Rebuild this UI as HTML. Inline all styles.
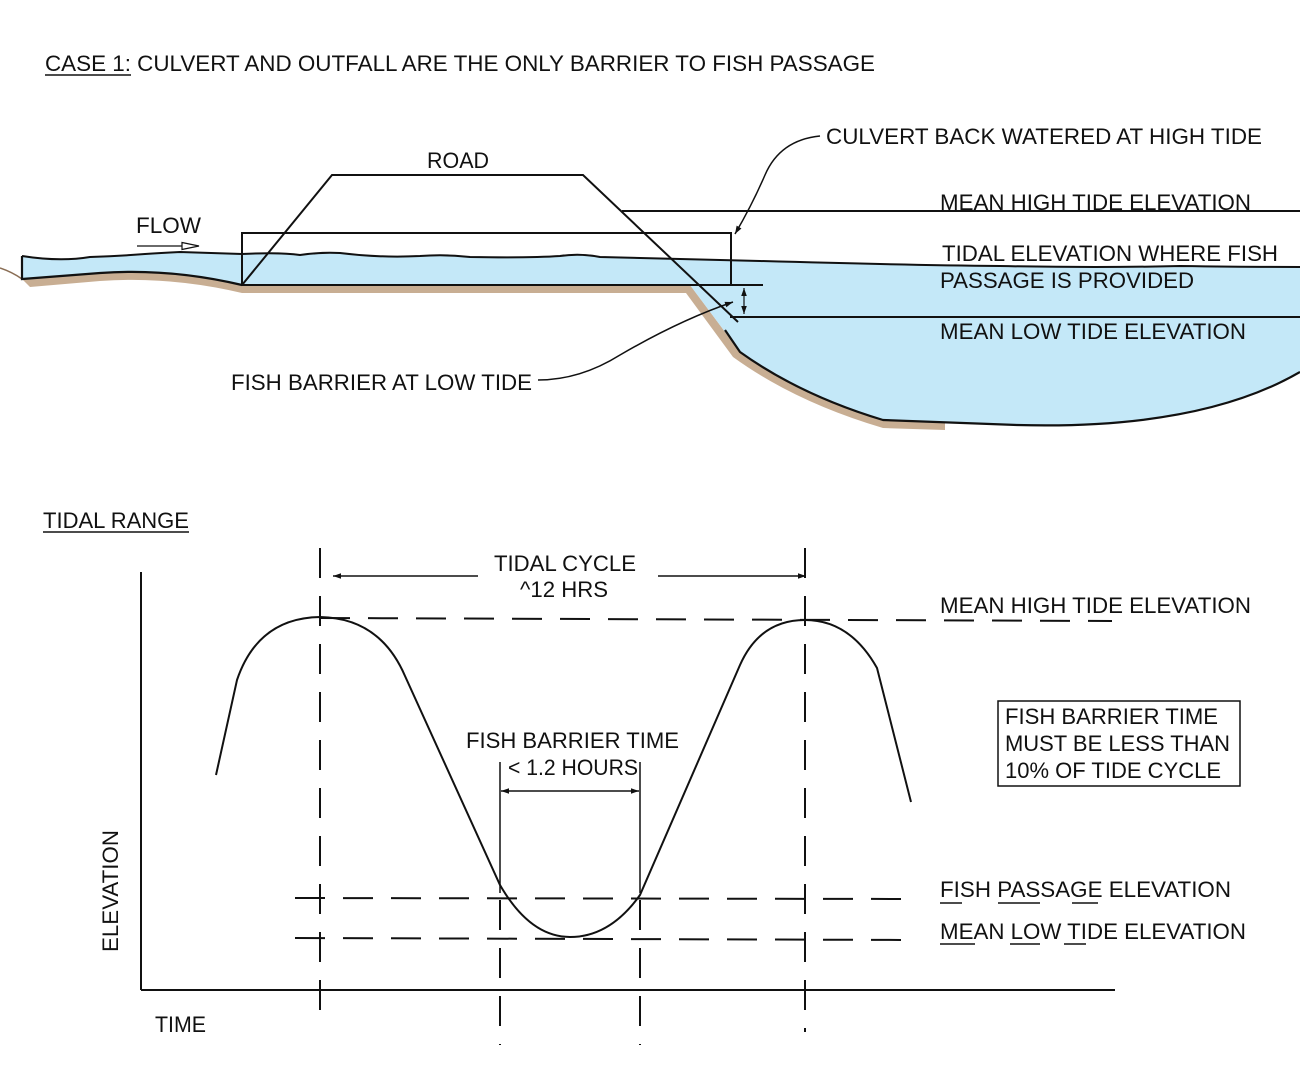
<!DOCTYPE html>
<html><head><meta charset="utf-8"><style>
html,body{margin:0;padding:0;background:#fff}
svg{display:block}
text{font-family:"Liberation Sans",Arial,sans-serif;font-size:22px;fill:#111}
</style></head><body>
<svg width="1300" height="1070" viewBox="0 0 1300 1070" xmlns="http://www.w3.org/2000/svg">
<defs>
<marker id="ar" viewBox="0 0 10 10" refX="10" refY="5" markerWidth="12" markerHeight="8" orient="auto-start-reverse" markerUnits="userSpaceOnUse"><path d="M0,1.5 L10,5 L0,8.5 z" fill="#111"/></marker>
</defs>
<g stroke="#111" fill="none" stroke-width="2">
<line x1="45" y1="75" x2="131" y2="75" stroke-width="1.5"/>
<!-- brown ground -->
<path d="M22,279 L100,273 Q170,268 242,285 L690,285 L740,352 Q800,395 883,420 L945,422 L945,430 L883,428 Q795,402 733,357 L686,293 L242,293 Q170,276 100,281 L30,287 Z" fill="#c8ae93" stroke="none"/>
<path d="M0,268 Q12,272 22,279" stroke="#8a6e55" stroke-width="1.5"/>
<!-- water -->
<path d="M22,256 Q60,262 90,257 Q120,256 145,254 Q160,253 180,252 L242,254 Q280,252 300,255 Q320,252 340,253 Q380,258 420,256 Q445,254 470,257 Q530,258 560,256 Q580,253 600,257 Q680,259 760,261 Q900,265 1000,266 Q1100,268 1180,266 Q1250,267 1300,267 L1300,372 Q1200,430 1017,425 L883,420 Q800,395 740,352 L690,285 L242,285 Q170,268 100,273 L22,279 Z" fill="#c4e8f8" stroke="none"/>
<path d="M22,256 L22,279 L100,273 Q170,268 242,285" stroke-width="2.2"/>
<path d="M22,256 Q60,262 90,257 Q120,256 145,254 Q160,253 180,252 L242,254 Q280,252 300,255 Q320,252 340,253 Q380,258 420,256 Q445,254 470,257 Q530,258 560,256 Q580,253 600,257 Q680,259 760,261 Q900,265 1000,266 Q1100,268 1180,266 Q1250,267 1300,267" stroke-width="2"/>
<path d="M725,330 L740,352 Q800,395 883,420 L1017,425 Q1200,430 1300,372" stroke-width="2.2"/>
<!-- road -->
<path d="M242,285 L332,175 L583,175 L738,322"/>
<rect x="242" y="233" width="489" height="52"/>
<line x1="242" y1="285" x2="763" y2="285"/>
<line x1="622" y1="211" x2="1300" y2="211"/>
<line x1="730" y1="317" x2="1300" y2="317"/>
<line x1="744" y1="288" x2="744" y2="314" stroke-width="1.2" marker-start="url(#ar)" marker-end="url(#ar)"/>
<path d="M820,136 Q780,140 765,175 Q752,205 735,234" stroke-width="1.5" marker-end="url(#ar)"/>
<path d="M538,380 Q580,380 620,355 Q680,320 733,302" stroke-width="1.5" marker-end="url(#ar)"/>
<line x1="137" y1="246" x2="182" y2="246" stroke-width="1.2"/>
<path d="M182,242.5 L199,246 L182,249.5 Z" fill="#fff" stroke-width="1.2"/>

<!-- lower chart -->
<line x1="43" y1="532" x2="189" y2="532" stroke-width="1.5"/>
<line x1="141" y1="572" x2="141" y2="990"/>
<line x1="141" y1="990" x2="1115" y2="990"/>
<line x1="333" y1="576" x2="478" y2="576" stroke-width="1.5" marker-start="url(#ar)"/>
<line x1="658" y1="576" x2="806" y2="576" stroke-width="1.5" marker-end="url(#ar)"/>
<line x1="501" y1="791" x2="639" y2="791" stroke-width="1.5" marker-start="url(#ar)" marker-end="url(#ar)"/>
<line x1="500" y1="762" x2="500" y2="893" stroke-width="1.5"/>
<line x1="640" y1="762" x2="640" y2="893" stroke-width="1.5"/>
<g stroke-dasharray="30,18">
<line x1="320" y1="548" x2="320" y2="1012"/>
<line x1="805" y1="548" x2="805" y2="1032"/>
<line x1="500" y1="900" x2="500" y2="1045"/>
<line x1="640" y1="900" x2="640" y2="1045"/>
<line x1="320" y1="618" x2="1112" y2="621"/>
<line x1="295" y1="898" x2="915" y2="899"/>
<line x1="295" y1="938" x2="915" y2="940"/>
</g>
<path d="M216,775 L237,680 Q258,618 320,617 Q380,618 405,676 L500,885 Q530,937 570,937 Q610,937 640,895 L740,665 Q760,620 805,620 Q850,620 877,668 L911,802"/>
<rect x="998" y="701" width="242" height="85" stroke-width="1.5"/>
<g stroke-width="1.5">
<line x1="940" y1="903" x2="962" y2="903"/><line x1="998" y1="903" x2="1040" y2="903"/><line x1="1072" y1="903" x2="1098" y2="903"/>
<line x1="940" y1="944" x2="975" y2="944"/><line x1="1010" y1="944" x2="1040" y2="944"/><line x1="1064" y1="944" x2="1086" y2="944"/>
</g>
</g>
<g lengthAdjust="spacingAndGlyphs">
<text x="45" y="71" textLength="830" lengthAdjust="spacingAndGlyphs">CASE 1: CULVERT AND OUTFALL ARE THE ONLY BARRIER TO FISH PASSAGE</text>
<text x="427" y="168" textLength="62" lengthAdjust="spacingAndGlyphs">ROAD</text>
<text x="826" y="144" textLength="436" lengthAdjust="spacingAndGlyphs">CULVERT BACK WATERED AT HIGH TIDE</text>
<text x="940" y="210" textLength="311" lengthAdjust="spacingAndGlyphs">MEAN HIGH TIDE ELEVATION</text>
<text x="942" y="261" textLength="336" lengthAdjust="spacingAndGlyphs">TIDAL ELEVATION WHERE FISH</text>
<text x="940" y="288" textLength="254" lengthAdjust="spacingAndGlyphs">PASSAGE IS PROVIDED</text>
<text x="940" y="339" textLength="306" lengthAdjust="spacingAndGlyphs">MEAN LOW TIDE ELEVATION</text>
<text x="136" y="233" textLength="65" lengthAdjust="spacingAndGlyphs">FLOW</text>
<text x="231" y="390" textLength="301" lengthAdjust="spacingAndGlyphs">FISH BARRIER AT LOW TIDE</text>
<text x="43" y="528" textLength="146" lengthAdjust="spacingAndGlyphs">TIDAL RANGE</text>
<text x="494" y="571" textLength="142" lengthAdjust="spacingAndGlyphs">TIDAL CYCLE</text>
<text x="520" y="597" textLength="88" lengthAdjust="spacingAndGlyphs">^12 HRS</text>
<text x="940" y="613" textLength="311" lengthAdjust="spacingAndGlyphs">MEAN HIGH TIDE ELEVATION</text>
<text x="466" y="748" textLength="213" lengthAdjust="spacingAndGlyphs">FISH BARRIER TIME</text>
<text x="508" y="775" textLength="130" lengthAdjust="spacingAndGlyphs">&lt; 1.2 HOURS</text>
<text x="1005" y="724" textLength="213" lengthAdjust="spacingAndGlyphs">FISH BARRIER TIME</text>
<text x="1005" y="751" textLength="225" lengthAdjust="spacingAndGlyphs">MUST BE LESS THAN</text>
<text x="1005" y="778" textLength="216" lengthAdjust="spacingAndGlyphs">10% OF TIDE CYCLE</text>
<text x="940" y="897" textLength="291" lengthAdjust="spacingAndGlyphs">FISH PASSAGE ELEVATION</text>
<text x="940" y="939" textLength="306" lengthAdjust="spacingAndGlyphs">MEAN LOW TIDE ELEVATION</text>
<text x="155" y="1032" textLength="51" lengthAdjust="spacingAndGlyphs">TIME</text>
<text transform="translate(118,952) rotate(-90)" textLength="122" lengthAdjust="spacingAndGlyphs">ELEVATION</text>
</g>
</svg>
</body></html>
